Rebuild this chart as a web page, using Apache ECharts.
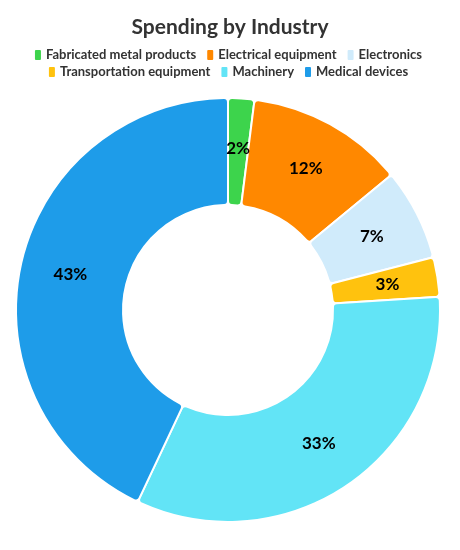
<!DOCTYPE html>
<html>
<head>
<meta charset="utf-8">
<script src="https://cdn.jsdelivr.net/npm/echarts@6/dist/echarts.min.js"></script>
<style>
  html, body { margin: 0; padding: 0; background: #fff; }
  #chart { width: 460px; height: 550px; }
</style>
</head>
<body>
<div id="chart"></div>
<script>
const industries = ["Fabricated metal products", "Electrical equipment", "Electronics", "Transportation equipment", "Machinery", "Medical devices"];
const shares = [2, 12, 7, 3, 33, 43];
const colors = ["#3dd44c", "#ff8800", "#d0ebfb", "#ffc20e", "#62e4f6", "#1e9ce9"];

// legend rows, each centred like the original
const legendRow = (top, names) => ({
  top: top,
  left: "center",
  icon: "roundRect",
  itemWidth: 8,
  itemHeight: 12,
  itemGap: 4,
  textStyle: { fontSize: 13, lineHeight: 13, fontWeight: "bold", color: "#333", padding: [0, 5, 0, -1] },
  data: names
});

const chart = echarts.init(document.getElementById("chart"));
const option = {
  color: colors,
  textStyle: { fontFamily: "Lato" },
  title: {
    text: "Spending by Industry",
    left: "center",
    top: 12,
    textStyle: { fontSize: 21, fontWeight: "bold", color: "#333" }
  },
  legend: [
    legendRow(43, industries.slice(0, 3)),
    legendRow(60, industries.slice(3))
  ],
  series: [{
    type: "pie",
    center: [228, 310],
    radius: [105, 212],
    startAngle: 90,
    itemStyle: { borderColor: "#fff", borderWidth: 2, borderRadius: 4 },
    label: {
      position: "inside",
      formatter: p => p.value + "%",
      fontSize: 17,
      fontWeight: "bold",
      color: "#000"
    },
    labelLine: { show: false },
    data: industries.map((name, i) => ({ name: name, value: shares[i] }))
  }]
};
chart.setOption(option);
</script>
</body>
</html>
